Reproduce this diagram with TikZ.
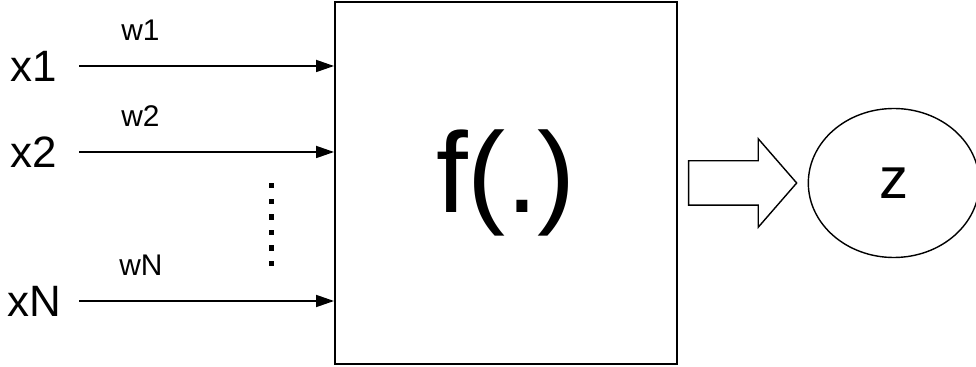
\documentclass[tikz,border=0pt]{standalone}
\usepackage{fontspec}
\setmainfont{Liberation Sans}
\usetikzlibrary{arrows.meta,positioning,shapes.geometric,shapes.arrows}

\begin{document}
\begin{tikzpicture}[
  inlabel/.style={font=\fontsize{25}{29}\selectfont,anchor=east,inner sep=0pt},
  wlabel/.style={font=\fontsize{17}{20}\selectfont,inner sep=0pt},
  arr/.style={-{Triangle[length=3.6mm,width=2.4mm]},line width=1pt,shorten <=4.3mm},
  unit/.style={draw,line width=1.1pt,minimum width=6.84cm,minimum height=7.24cm,
    font=\fontsize{65}{70}\selectfont},
  blockarrow/.style={single arrow,draw,line width=0.8pt,minimum height=2.16cm,
    inner xsep=0pt,inner ysep=0.43cm,single arrow head extend=0.44cm,
    single arrow tip angle=98},
  outnode/.style={ellipse,draw,line width=0.8pt,minimum width=3.42cm,
    minimum height=2.98cm,font=\fontsize{33}{36}\selectfont}
]
  \useasboundingbox (0,0) rectangle (19.52,-7.34);

  % Bloque de la funcion.
  \node[unit] (box) at (10.12,-3.66) {f(.)};

  % Entradas con sus pesos.
  \node[inlabel] (x1) at (1.15,-1.32) {x1};
  \node[inlabel] (x2) at (1.15,-3.04) {x2};
  \node[inlabel] (xN) at (1.24,-6.02) {xN};
  \draw[arr] (x1.east) -- node[wlabel,pos=0.3,above=5mm] {w1} (x1.east -| box.west);
  \draw[arr] (x2.east) -- node[wlabel,pos=0.3,above=5mm] {w2} (x2.east -| box.west);
  \draw[arr,shorten <=3.4mm] (xN.east) -- node[wlabel,pos=0.29,above=5mm] {wN} (xN.east -| box.west);
  \foreach \k in {0,...,5}
    \fill (5.37,{-3.66-\k*0.312}) rectangle ++(0.11,-0.11);

  % Salida.
  \node[blockarrow,right=2mm of box] (flow) {};
  \node[outnode,right=2mm of flow] (z) {z};
\end{tikzpicture}
\end{document}
